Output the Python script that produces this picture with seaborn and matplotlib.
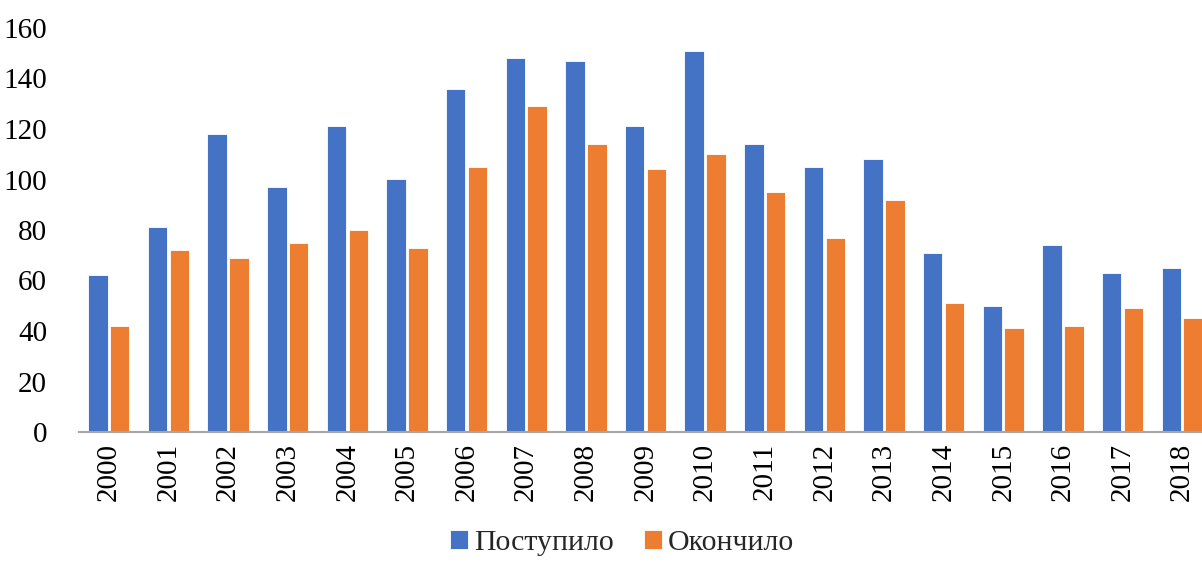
import matplotlib
matplotlib.use("Agg")
import matplotlib.pyplot as plt
import seaborn as sns
import pandas as pd

years = [str(y) for y in range(2000, 2019)]
enrolled = [62, 81, 118, 97, 121, 100, 136, 148, 147, 121, 151, 114, 105, 108, 71, 50, 74, 63, 65]
graduated = [42, 72, 69, 75, 80, 73, 105, 129, 114, 104, 110, 95, 77, 92, 51, 41, 42, 49, 45]
series_names = ["Поступило", "Окончило"]
colors = ["#4472C4", "#ED7D31"]

df = pd.DataFrame({
    "year": years * 2,
    "value": enrolled + graduated,
    "series": [series_names[0]] * len(years) + [series_names[1]] * len(years),
})

sns.set_theme(style="white")
plt.rcParams["font.family"] = ["Liberation Serif", "DejaVu Serif"]

fig = plt.figure(figsize=(12.02, 5.62), dpi=100)
ax = fig.add_axes([79 / 1202, 130 / 562, 1133 / 1202, 404 / 562])

sns.barplot(data=df, x="year", y="value", hue="series", palette=colors,
            saturation=1, width=0.733, gap=0.11, edgecolor="white", linewidth=0.6,
            ax=ax, legend=True)

ax.set_ylim(0, 160)
ax.set_xlim(-0.5, len(years) - 0.5)
ax.set_yticks(range(0, 161, 20))
ax.set_xlabel("")
ax.set_ylabel("")
for side in ["left", "right", "top"]:
    ax.spines[side].set_visible(False)
ax.spines["bottom"].set_color("#a6a6a6")
ax.spines["bottom"].set_linewidth(1.5)
ax.tick_params(axis="y", length=0, pad=23, labelsize=21, colors="black")
ax.tick_params(axis="x", length=0, pad=8, labelsize=21, colors="black", rotation=90)

handles, labels = ax.get_legend_handles_labels()
ax.get_legend().remove()
fig.legend(handles, labels, loc="center", bbox_to_anchor=(622 / 1202, 1 - 543 / 562),
           ncol=2, frameon=False, fontsize=21.5, handlelength=0.6, handleheight=0.6,
           handletextpad=0.2, borderpad=0.1, columnspacing=1.0)

fig.savefig("out.png", dpi=100)
